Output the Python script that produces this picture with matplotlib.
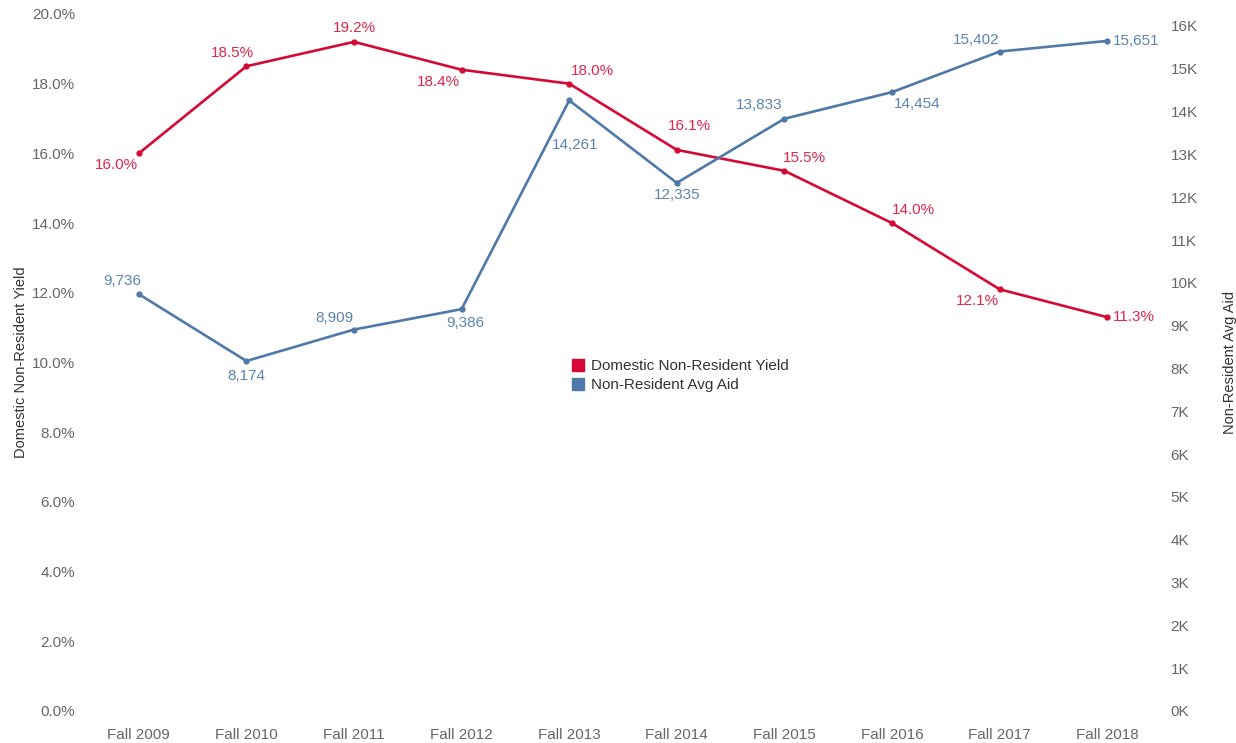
import matplotlib.pyplot as plt
from matplotlib.lines import Line2D

plt.rcParams['font.family'] = ['Liberation Sans', 'DejaVu Sans']

terms = ['Fall 2009', 'Fall 2010', 'Fall 2011', 'Fall 2012', 'Fall 2013',
         'Fall 2014', 'Fall 2015', 'Fall 2016', 'Fall 2017', 'Fall 2018']
yield_pct = [16.0, 18.5, 19.2, 18.4, 18.0, 16.1, 15.5, 14.0, 12.1, 11.3]
avg_aid = [9736, 8174, 8909, 9386, 14261, 12335, 13833, 14454, 15402, 15651]

# label offsets in pixels (dx, dy), dy positive = up
yield_off = [(-22, -12), (-14, 13), (0, 14), (-23, -12), (23, 13),
             (13, 24), (20, 13), (21, 13), (-22, -12), (27, 0)]
aid_off = [(-17, 13), (0, -15), (-20, 12), (4, -14), (6, -45),
           (0, -12), (-25, 14), (25, -12), (-23, 12), (27, 0)]

red = '#d50a34'
red_txt = '#e0264a'
blue = '#4f79a8'
blue_txt = '#5b84b0'
grey = '#666666'

fig = plt.figure(figsize=(12.36, 7.43), dpi=100)
ax = fig.add_axes([0.0688, 0.0431, 0.8705, 0.9381])
ax2 = ax.twinx()

x = list(range(len(terms)))
ax.plot(x, yield_pct, color=red, lw=1.9, marker='o', ms=3.5, zorder=3)
ax2.plot(x, avg_aid, color=blue, lw=1.9, marker='o', ms=3.5, zorder=3)

for xi, v, (dx, dy) in zip(x, yield_pct, yield_off):
    ha = 'left' if xi == len(x) - 1 else 'center'
    ax.annotate(f'{v:.1f}%', (xi, v), xytext=(dx if ha == 'center' else 6, dy),
                textcoords='offset pixels', ha=ha, va='center',
                color=red_txt, fontsize=11)
for xi, v, (dx, dy) in zip(x, avg_aid, aid_off):
    ha = 'left' if xi == len(x) - 1 else 'center'
    ax2.annotate(f'{v:,}', (xi, v), xytext=(dx if ha == 'center' else 6, dy),
                 textcoords='offset pixels', ha=ha, va='center',
                 color=blue_txt, fontsize=11)

ax.set_xlim(-0.5, len(terms) - 0.5)
ax.set_ylim(0, 20)
ax2.set_ylim(0, 16280)

ax.set_yticks(range(0, 21, 2))
ax.set_yticklabels([f'{t:.1f}%' for t in range(0, 21, 2)])
ax2.set_yticks(range(0, 16001, 1000))
ax2.set_yticklabels([f'{t // 1000}K' for t in range(0, 16001, 1000)])
ax.set_xticks(x)
ax.set_xticklabels(terms)

for a in (ax, ax2):
    for s in a.spines.values():
        s.set_visible(False)
    a.tick_params(length=0, labelsize=11, labelcolor=grey, pad=7)
ax.tick_params(axis='x', pad=12)

ax.set_ylabel('Domestic Non-Resident Yield', fontsize=10.5, color='#333333', labelpad=3)
ax2.set_ylabel('Non-Resident Avg Aid', fontsize=10.5, color='#333333', labelpad=18)

handles = [Line2D([], [], ls='none', marker='s', ms=9, color=red),
           Line2D([], [], ls='none', marker='s', ms=9, color=blue)]
fig.legend(handles, ['Domestic Non-Resident Yield', 'Non-Resident Avg Aid'],
           loc='upper left', bbox_to_anchor=(0.455, 0.527), frameon=False,
           fontsize=11, handletextpad=0.4, labelspacing=0.35, handlelength=1.0,
           borderpad=0, labelcolor='#333333')

fig.savefig('out.png', dpi=100)
